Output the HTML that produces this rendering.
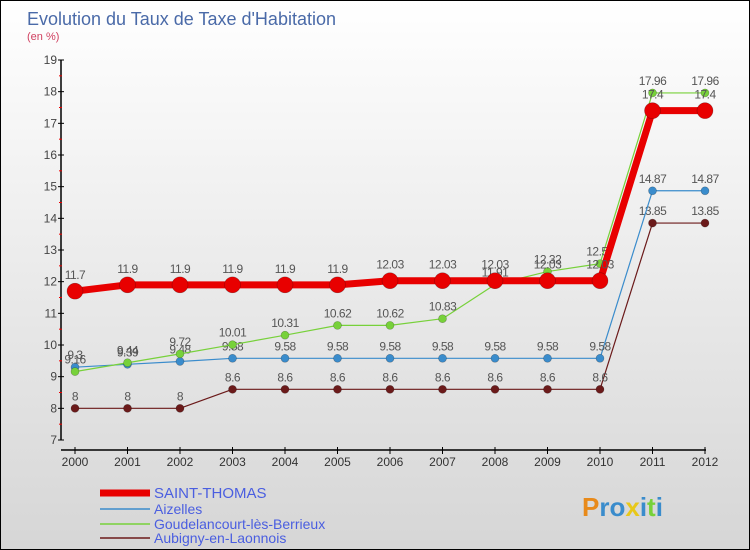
<!DOCTYPE html>
<html><head><meta charset="utf-8"><style>
body{margin:0;width:750px;height:550px;overflow:hidden;font-family:"Liberation Sans",sans-serif}
#bg{position:absolute;left:0;top:0;width:748px;height:548px;border:1px solid #000;background:linear-gradient(#fff,#d6d6d6)}
</style></head><body>
<div id="bg"></div>
<svg id="c" width="750" height="550" style="position:absolute;left:0;top:0">
<text x="27" y="25" font-size="18" fill="#4a6aa8">Evolution du Taux de Taxe d'Habitation</text>
<text x="27" y="40" font-size="11" fill="#d04060">(en %)</text>
<g id="g"></g>
</svg>
<script>
const years=[2000,2001,2002,2003,2004,2005,2006,2007,2008,2009,2010,2011,2012];
const yTicks=[7,8,9,10,11,12,13,14,15,16,17,18,19];
const stThomas=[11.7,11.9,11.9,11.9,11.9,11.9,12.03,12.03,12.03,12.03,12.03,17.4,17.4];
const aizelles=[9.3,9.39,9.48,9.58,9.58,9.58,9.58,9.58,9.58,9.58,9.58,14.87,14.87];
const goudel=[9.16,9.44,9.72,10.01,10.31,10.62,10.62,10.83,11.91,12.32,12.57,17.96,17.96];
const aubigny=[8,8,8,8.6,8.6,8.6,8.6,8.6,8.6,8.6,8.6,13.85,13.85];
const names=["SAINT-THOMAS","Aizelles","Goudelancourt-lès-Berrieux","Aubigny-en-Laonnois"];
const NS="http://www.w3.org/2000/svg",g=document.getElementById('g');
const X=i=>75+i*52.5, Y=v=>440-(v-7)*31.667;
function el(t,a,n){const e=document.createElementNS(NS,t);for(const k in a)e.setAttribute(k,a[k]);


g.appendChild(e);return e;}
el('line',{x1:61,y1:Y(19),x2:61,y2:Y(7),stroke:'#000','stroke-width':1.5},'y-axis');
el('line',{x1:61,y1:450,x2:706,y2:450,stroke:'#000','stroke-width':1.5},'x-axis');
yTicks.forEach(v=>{el('line',{x1:58,y1:Y(v),x2:64,y2:Y(v),stroke:'#000'},'y-tick');
if(v<19)el('line',{x1:59,y1:Y(v+.5),x2:62,y2:Y(v+.5),stroke:'#e00'},'y-minor-tick');
const t=el('text',{x:57,y:Y(v)+4,'font-size':12,fill:'#444','text-anchor':'end'},'y-tick-label');t.textContent=v;});
years.forEach((yr,i)=>{el('line',{x1:X(i),y1:447,x2:X(i),y2:454,stroke:'#000'},'x-tick');
const t=el('text',{x:X(i),y:466,'font-size':12,fill:'#333','text-anchor':'middle'},'x-tick-label');t.textContent=yr;});
function series(d,col,w,r,n,dy){
el('polyline',{points:d.map((v,i)=>X(i)+','+Y(v)).join(' '),fill:'none',stroke:col,'stroke-width':w,'stroke-linejoin':'round'},n+'-line');
d.forEach((v,i)=>{el('circle',{cx:X(i),cy:Y(v),r:r,fill:col,stroke:'rgba(0,0,0,0.3)','stroke-width':.6},n+'-point');
const t=el('text',{x:X(i),y:Y(v)-dy,'font-size':12,fill:'#555','text-anchor':'middle','letter-spacing':'-0.5'},n+'-value-label');t.textContent=String(v);});}
series(aubigny,'#6b1a1a',1.2,4,'aubigny',8);
series(aizelles,'#3a8ccc',1.2,4,'aizelles',8);
series(goudel,'#77d13a',1.2,4,'goudelancourt',8);
series(stThomas,'#e80000',7,8,'saint-thomas',12);
const cols=['#e80000','#3a8ccc','#77d13a','#6b1a1a'],ws=[7,1.5,1.5,1.5],ly=[493,509,524,538];
names.forEach((nm,i)=>{el('line',{x1:100,y1:ly[i],x2:150,y2:ly[i],stroke:cols[i],'stroke-width':ws[i]},'legend-swatch');
const t=el('text',{x:154,y:ly[i]+5,'font-size':i==0?15:14,fill:'#4a5ee0'},'legend-entry');t.textContent=nm;});
const p=el('text',{x:582,y:516,'font-size':26,'font-weight':'bold',fill:'#3a8ccc'},'proxiti-logo');
p.innerHTML='<tspan fill="#e88a1a">P</tspan>ro<tspan fill="#e8c81a">x</tspan>i<tspan fill="#77d13a">t</tspan>i';
</script>
</body></html>
